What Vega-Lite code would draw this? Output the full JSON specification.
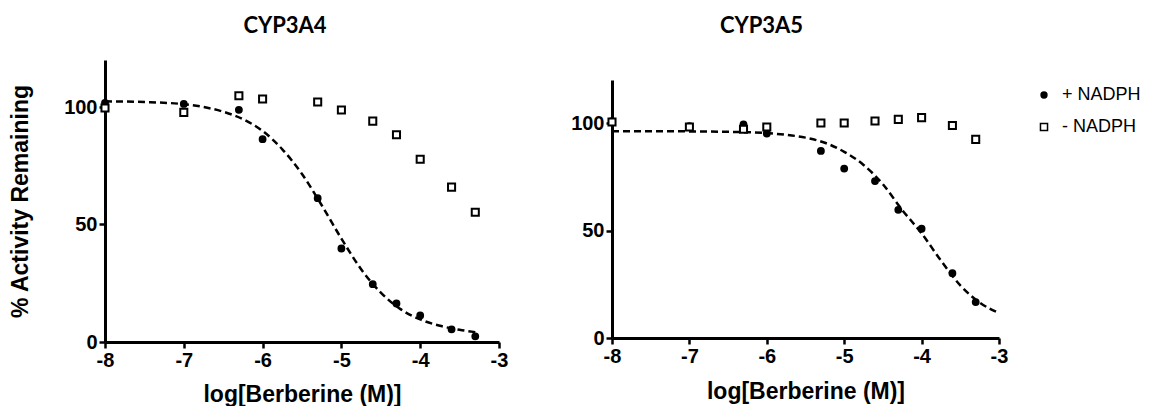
{
  "$schema": "https://vega.github.io/schema/vega-lite/v6.json",
  "padding": {"left": 9, "top": 15, "right": 0, "bottom": 0},
  "background": "white",
  "datasets": {
    "pts": [
      {"panel": "CYP3A4", "series": "+ NADPH", "logConc": -8, "activity": 101.7},
      {"panel": "CYP3A4", "series": "+ NADPH", "logConc": -7, "activity": 101.3},
      {"panel": "CYP3A4", "series": "+ NADPH", "logConc": -6.301, "activity": 98.8},
      {"panel": "CYP3A4", "series": "+ NADPH", "logConc": -6, "activity": 86.3},
      {"panel": "CYP3A4", "series": "+ NADPH", "logConc": -5.301, "activity": 61.2},
      {"panel": "CYP3A4", "series": "+ NADPH", "logConc": -5, "activity": 39.8},
      {"panel": "CYP3A4", "series": "+ NADPH", "logConc": -4.602, "activity": 24.6},
      {"panel": "CYP3A4", "series": "+ NADPH", "logConc": -4.301, "activity": 16.4},
      {"panel": "CYP3A4", "series": "+ NADPH", "logConc": -4, "activity": 11.3},
      {"panel": "CYP3A4", "series": "+ NADPH", "logConc": -3.602, "activity": 5.4},
      {"panel": "CYP3A4", "series": "+ NADPH", "logConc": -3.301, "activity": 2.4},
      {"panel": "CYP3A4", "series": "- NADPH", "logConc": -8, "activity": 99.6},
      {"panel": "CYP3A4", "series": "- NADPH", "logConc": -7, "activity": 97.7},
      {"panel": "CYP3A4", "series": "- NADPH", "logConc": -6.301, "activity": 104.8},
      {"panel": "CYP3A4", "series": "- NADPH", "logConc": -6, "activity": 103.4},
      {"panel": "CYP3A4", "series": "- NADPH", "logConc": -5.301, "activity": 102.1},
      {"panel": "CYP3A4", "series": "- NADPH", "logConc": -5, "activity": 98.7},
      {"panel": "CYP3A4", "series": "- NADPH", "logConc": -4.602, "activity": 94.0},
      {"panel": "CYP3A4", "series": "- NADPH", "logConc": -4.301, "activity": 88.2},
      {"panel": "CYP3A4", "series": "- NADPH", "logConc": -4, "activity": 77.8},
      {"panel": "CYP3A4", "series": "- NADPH", "logConc": -3.602, "activity": 65.9},
      {"panel": "CYP3A4", "series": "- NADPH", "logConc": -3.301, "activity": 55.2},
      {"panel": "CYP3A5", "series": "+ NADPH", "logConc": -8, "activity": 100.9},
      {"panel": "CYP3A5", "series": "+ NADPH", "logConc": -7, "activity": 98.5},
      {"panel": "CYP3A5", "series": "+ NADPH", "logConc": -6.301, "activity": 99.4},
      {"panel": "CYP3A5", "series": "+ NADPH", "logConc": -6, "activity": 95.1},
      {"panel": "CYP3A5", "series": "+ NADPH", "logConc": -5.301, "activity": 87.0},
      {"panel": "CYP3A5", "series": "+ NADPH", "logConc": -5, "activity": 78.8},
      {"panel": "CYP3A5", "series": "+ NADPH", "logConc": -4.602, "activity": 73.0},
      {"panel": "CYP3A5", "series": "+ NADPH", "logConc": -4.301, "activity": 59.6},
      {"panel": "CYP3A5", "series": "+ NADPH", "logConc": -4, "activity": 50.8},
      {"panel": "CYP3A5", "series": "+ NADPH", "logConc": -3.602, "activity": 30.1},
      {"panel": "CYP3A5", "series": "+ NADPH", "logConc": -3.301, "activity": 16.7},
      {"panel": "CYP3A5", "series": "- NADPH", "logConc": -8, "activity": 100.5},
      {"panel": "CYP3A5", "series": "- NADPH", "logConc": -7, "activity": 98.1},
      {"panel": "CYP3A5", "series": "- NADPH", "logConc": -6.301, "activity": 97.1},
      {"panel": "CYP3A5", "series": "- NADPH", "logConc": -6, "activity": 98.1},
      {"panel": "CYP3A5", "series": "- NADPH", "logConc": -5.301, "activity": 100.0},
      {"panel": "CYP3A5", "series": "- NADPH", "logConc": -5, "activity": 100.0},
      {"panel": "CYP3A5", "series": "- NADPH", "logConc": -4.602, "activity": 100.9},
      {"panel": "CYP3A5", "series": "- NADPH", "logConc": -4.301, "activity": 101.7},
      {"panel": "CYP3A5", "series": "- NADPH", "logConc": -4, "activity": 102.5},
      {"panel": "CYP3A5", "series": "- NADPH", "logConc": -3.602, "activity": 98.8},
      {"panel": "CYP3A5", "series": "- NADPH", "logConc": -3.301, "activity": 92.4}
    ],
    "fit": [
      {"panel": "CYP3A4", "logConc": -8, "activity": 102.4},
      {"panel": "CYP3A4", "logConc": -7.5, "activity": 102.1},
      {"panel": "CYP3A4", "logConc": -7, "activity": 101.2},
      {"panel": "CYP3A4", "logConc": -6.75, "activity": 100.0},
      {"panel": "CYP3A4", "logConc": -6.5, "activity": 98.0},
      {"panel": "CYP3A4", "logConc": -6.25, "activity": 94.8},
      {"panel": "CYP3A4", "logConc": -6, "activity": 89.8},
      {"panel": "CYP3A4", "logConc": -5.75, "activity": 82.0},
      {"panel": "CYP3A4", "logConc": -5.5, "activity": 71.5},
      {"panel": "CYP3A4", "logConc": -5.25, "activity": 58.2},
      {"panel": "CYP3A4", "logConc": -5, "activity": 44.0},
      {"panel": "CYP3A4", "logConc": -4.75, "activity": 31.0},
      {"panel": "CYP3A4", "logConc": -4.5, "activity": 21.0},
      {"panel": "CYP3A4", "logConc": -4.25, "activity": 14.0},
      {"panel": "CYP3A4", "logConc": -4, "activity": 9.6},
      {"panel": "CYP3A4", "logConc": -3.75, "activity": 6.9},
      {"panel": "CYP3A4", "logConc": -3.5, "activity": 5.2},
      {"panel": "CYP3A4", "logConc": -3.3, "activity": 4.2},
      {"panel": "CYP3A5", "logConc": -8, "activity": 96.2},
      {"panel": "CYP3A5", "logConc": -7.5, "activity": 96.2},
      {"panel": "CYP3A5", "logConc": -7, "activity": 96.1},
      {"panel": "CYP3A5", "logConc": -6.5, "activity": 95.9},
      {"panel": "CYP3A5", "logConc": -6, "activity": 95.3},
      {"panel": "CYP3A5", "logConc": -5.75, "activity": 94.5},
      {"panel": "CYP3A5", "logConc": -5.5, "activity": 93.2},
      {"panel": "CYP3A5", "logConc": -5.25, "activity": 90.8},
      {"panel": "CYP3A5", "logConc": -5, "activity": 86.6},
      {"panel": "CYP3A5", "logConc": -4.75, "activity": 80.5},
      {"panel": "CYP3A5", "logConc": -4.5, "activity": 71.5},
      {"panel": "CYP3A5", "logConc": -4.25, "activity": 59.5},
      {"panel": "CYP3A5", "logConc": -4, "activity": 48.7},
      {"panel": "CYP3A5", "logConc": -3.75, "activity": 36.0},
      {"panel": "CYP3A5", "logConc": -3.5, "activity": 24.5},
      {"panel": "CYP3A5", "logConc": -3.25, "activity": 16.5},
      {"panel": "CYP3A5", "logConc": -3, "activity": 11.6}
    ]
  },
  "config": {
    "view": {"stroke": null},
    "axis": {
      "grid": false,
      "domainColor": "black",
      "domainWidth": 3,
      "tickColor": "black",
      "tickWidth": 2.5,
      "tickSize": 6,
      "labelFont": "Liberation Sans",
      "labelFontWeight": "bold",
      "labelFontSize": 20,
      "labelColor": "black",
      "labelPadding": 2,
      "labelFlush": false,
      "titleFont": "Liberation Sans",
      "titleFontWeight": "bold",
      "titleFontSize": 23,
      "titleColor": "black"
    },
    "concat": {"spacing": 62}
  },
  "hconcat": [
    {
      "width": 394,
      "height": 282,
      "title": {"text": "CYP3A4", "font": "Lato", "fontSize": 22, "fontWeight": "bold", "color": "black", "anchor": "middle", "frame": "group", "dx": -17, "offset": 22},
      "layer": [
        {
          "data": {"name": "fit"},
          "transform": [{"filter": "datum.panel == 'CYP3A4'"}],
          "mark": {"type": "line", "strokeDash": [7, 4], "strokeWidth": 2.5, "color": "black", "interpolate": "monotone"},
          "encoding": {
            "x": {"field": "logConc", "type": "quantitative", "scale": {"domain": [-8, -3], "nice": false, "zero": false}, "axis": {"values": [-8, -7, -6, -5, -4, -3], "labelExpr": "toString(datum.value)", "title": "log[Berberine (M)]", "titlePadding": 13}},
            "y": {"field": "activity", "type": "quantitative", "scale": {"domain": [0, 120], "nice": false}, "axis": {"values": [0, 50, 100], "title": "% Activity Remaining", "titlePadding": 31}}
          }
        },
        {
          "data": {"name": "pts"},
          "transform": [{"filter": "datum.panel == 'CYP3A4'"}],
          "mark": {"type": "point", "filled": true, "stroke": "black", "strokeWidth": 2, "opacity": 1},
          "encoding": {
            "x": {"field": "logConc", "type": "quantitative"},
            "y": {"field": "activity", "type": "quantitative"},
            "shape": {"field": "series", "type": "nominal", "scale": {"domain": ["+ NADPH", "- NADPH"], "range": ["circle", "square"]}, "legend": {"title": null, "orient": "none", "legendX": 930, "legendY": 26, "labelFont": "Liberation Sans", "labelFontSize": 18, "labelColor": "black", "rowPadding": 14, "labelOffset": 9, "encode": {"symbols": {"update": {"stroke": {"value": "black"}, "strokeWidth": {"value": 2}}}}}},
            "fill": {"field": "series", "type": "nominal", "scale": {"domain": ["+ NADPH", "- NADPH"], "range": ["black", "white"]}, "legend": {"title": null, "orient": "none", "legendX": 930, "legendY": 26, "labelFont": "Liberation Sans", "labelFontSize": 18, "labelColor": "black", "rowPadding": 14, "labelOffset": 9, "encode": {"symbols": {"update": {"stroke": {"value": "black"}, "strokeWidth": {"value": 2}}}}}},
            "size": {"field": "series", "type": "nominal", "scale": {"domain": ["+ NADPH", "- NADPH"], "range": [34, 50]}, "legend": {"title": null, "orient": "none", "legendX": 930, "legendY": 26, "labelFont": "Liberation Sans", "labelFontSize": 18, "labelColor": "black", "rowPadding": 14, "labelOffset": 9, "encode": {"symbols": {"update": {"stroke": {"value": "black"}, "strokeWidth": {"value": 2}}}}}}
          }
        }
      ]
    },
    {
      "width": 387,
      "height": 278,
      "title": {"text": "CYP3A5", "font": "Lato", "fontSize": 22, "fontWeight": "bold", "color": "black", "anchor": "middle", "frame": "group", "dx": -44, "offset": 22},
      "layer": [
        {
          "data": {"name": "fit"},
          "transform": [{"filter": "datum.panel == 'CYP3A5'"}],
          "mark": {"type": "line", "strokeDash": [7, 4], "strokeWidth": 2.5, "color": "black", "interpolate": "monotone"},
          "encoding": {
            "x": {"field": "logConc", "type": "quantitative", "scale": {"domain": [-8, -3], "nice": false, "zero": false}, "axis": {"values": [-8, -7, -6, -5, -4, -3], "labelExpr": "toString(datum.value)", "title": "log[Berberine (M)]", "titlePadding": 14}},
            "y": {"field": "activity", "type": "quantitative", "scale": {"domain": [0, 120], "nice": false, "range": [278, 20]}, "axis": {"values": [0, 50, 100], "title": null}}
          }
        },
        {
          "data": {"name": "pts"},
          "transform": [{"filter": "datum.panel == 'CYP3A5'"}],
          "mark": {"type": "point", "filled": true, "stroke": "black", "strokeWidth": 2, "opacity": 1},
          "encoding": {
            "x": {"field": "logConc", "type": "quantitative"},
            "y": {"field": "activity", "type": "quantitative"},
            "shape": {"field": "series", "type": "nominal", "scale": {"domain": ["+ NADPH", "- NADPH"], "range": ["circle", "square"]}},
            "fill": {"field": "series", "type": "nominal", "scale": {"domain": ["+ NADPH", "- NADPH"], "range": ["black", "white"]}},
            "size": {"field": "series", "type": "nominal", "scale": {"domain": ["+ NADPH", "- NADPH"], "range": [34, 50]}}
          }
        }
      ]
    }
  ]
}
